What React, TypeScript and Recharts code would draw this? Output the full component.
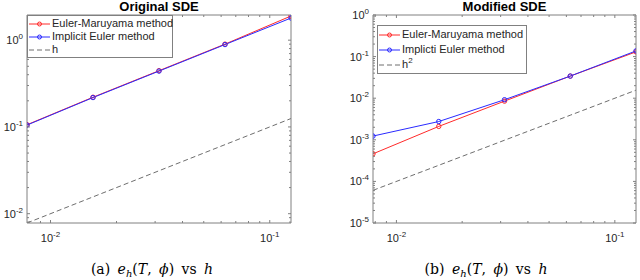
import React from 'react';
import { LineChart, Line, XAxis, YAxis } from 'recharts';

// step sizes h = 2^-7 ... 2^-3
const stepSizes = [0.0078125, 0.015625, 0.03125, 0.0625, 0.125];

// (a) original SDE errors
const originalEM = [0.106, 0.22, 0.445, 0.9, 1.9];
const originalIE = [0.105, 0.218, 0.44, 0.89, 1.8];
const originalRef = [0.0078125, 0.015625, 0.03125, 0.0625, 0.125];

// (b) modified SDE errors
const modifiedEM = [0.00046, 0.0021, 0.0085, 0.034, 0.13];
const modifiedIE = [0.00123, 0.00275, 0.0092, 0.034, 0.137];
const modifiedRef = [0.000061, 0.000244, 0.000977, 0.0039, 0.0156];

const xTicks = [0.008, 0.009, 0.01, 0.02, 0.03, 0.04, 0.05, 0.06, 0.07, 0.08, 0.09, 0.1];
const yTicksOriginal = [
  0.008, 0.009, 0.01, 0.02, 0.03, 0.04, 0.05, 0.06, 0.07, 0.08, 0.09,
  0.1, 0.2, 0.3, 0.4, 0.5, 0.6, 0.7, 0.8, 0.9, 1,
];
const yTicksModified = [
  1e-5, 2e-5, 3e-5, 4e-5, 5e-5, 6e-5, 7e-5, 8e-5, 9e-5,
  1e-4, 2e-4, 3e-4, 4e-4, 5e-4, 6e-4, 7e-4, 8e-4, 9e-4,
  1e-3, 2e-3, 3e-3, 4e-3, 5e-3, 6e-3, 7e-3, 8e-3, 9e-3,
  0.01, 0.02, 0.03, 0.04, 0.05, 0.06, 0.07, 0.08, 0.09,
  0.1, 0.2, 0.3, 0.4, 0.5, 0.6, 0.7, 0.8, 0.9, 1,
];

const AXIS = '#808080';
const TEXT = '#262626';
const EM_COLOR = '#ff2a2a';
const IE_COLOR = '#2a2aff';
const REF_COLOR = '#6e6e6e';
const SANS = '"Liberation Sans", Arial, Helvetica, sans-serif';

const isDecade = (v: number) => Math.abs(Math.log10(v) - Math.round(Math.log10(v))) < 1e-9;

const Pow10 = ({ x, y, v, anchor }: any) => (
  <text x={x} y={y} textAnchor={anchor} fontSize={11} fill={TEXT} fontFamily={SANS}>
    10<tspan dy={-5} fontSize={8}>{String(Math.round(Math.log10(v)))}</tspan>
  </text>
);

// ticks point inward, like MATLAB boxed axes
const BottomTick = ({ x, y, payload }: any) => {
  const major = isDecade(payload.value);
  return (
    <g>
      <line x1={x} x2={x} y1={y} y2={y - (major ? 3 : 2)} stroke={AXIS} />
      {major && <Pow10 x={x} y={y + 19} v={payload.value} anchor="middle" />}
    </g>
  );
};

const TopTick = ({ x, y, payload }: any) => {
  const major = isDecade(payload.value);
  return <line x1={x} x2={x} y1={y} y2={y + (major ? 3 : 2)} stroke={AXIS} />;
};

const LeftTick = ({ x, y, payload }: any) => {
  const major = isDecade(payload.value);
  return (
    <g>
      <line x1={x} x2={x + (major ? 3 : 2)} y1={y} y2={y} stroke={AXIS} />
      {major && <Pow10 x={x - 4} y={y + 4} v={payload.value} anchor="end" />}
    </g>
  );
};

const RightTick = ({ x, y, payload }: any) => {
  const major = isDecade(payload.value);
  return <line x1={x} x2={x - (major ? 3 : 2)} y1={y} y2={y} stroke={AXIS} />;
};

const LegendRow = ({ color, dashed, marker, height, children }: any) => (
  <div style={{ display: 'flex', alignItems: 'center', height, whiteSpace: 'nowrap' }}>
    <svg width={21} height={8} style={{ marginRight: 2, flex: 'none' }}>
      <line x1={0} x2={21} y1={4} y2={4} stroke={color} strokeWidth={1} strokeDasharray={dashed ? '5 3' : undefined} />
      {marker && <circle cx={10.5} cy={4} r={2} stroke={color} fill="none" />}
    </svg>
    <span>{children}</span>
  </div>
);

interface PanelProps {
  left: number;
  title: string;
  em: number[];
  ie: number[];
  ref: number[];
  yDomain: [number, number];
  yTicks: number[];
  yAxisWidth: number;
  rightMargin: number;
  legend: { left: number; top: number; width: number; rowHeight: number };
  ieLabel: string;
  refLabel: React.ReactNode;
  caption: string;
  captionCenter: number;
}

const Panel = (p: PanelProps) => {
  const rows = stepSizes.map((h, i) => ({ h, em: p.em[i], ie: p.ie[i], ref: p.ref[i] }));
  const plotLeft = p.yAxisWidth;
  const plotRight = 320 - p.rightMargin;
  const xDomain: [number, number] = [stepSizes[0], stepSizes[stepSizes.length - 1]];
  const axisLine = { stroke: AXIS, strokeWidth: 1 };
  return (
    <div style={{ position: 'absolute', left: p.left, top: 0, width: 320, height: 280 }}>
      <LineChart width={320} height={280} data={rows}
        margin={{ top: 14, right: p.rightMargin - 1, bottom: 27, left: 0 }}>
        <XAxis dataKey="h" type="number" scale="log" domain={xDomain} ticks={xTicks} interval={0}
          allowDataOverflow height={30} tickSize={0} tickMargin={0} tick={<BottomTick />}
          axisLine={axisLine} tickLine={false} />
        <XAxis xAxisId="top" orientation="top" dataKey="h" type="number" scale="log" domain={xDomain} ticks={xTicks}
          interval={0} allowDataOverflow height={1} tickSize={0} tickMargin={0} tick={<TopTick />}
          axisLine={axisLine} tickLine={false} />
        <YAxis type="number" scale="log" domain={p.yDomain} ticks={p.yTicks} interval={0} allowDataOverflow
          width={p.yAxisWidth} tickSize={0} tickMargin={0} tick={<LeftTick />} axisLine={axisLine} tickLine={false} />
        <YAxis yAxisId="right" orientation="right" type="number" scale="log" domain={p.yDomain} ticks={p.yTicks}
          interval={0} allowDataOverflow width={1} tickSize={0} tickMargin={0} tick={<RightTick />}
          axisLine={axisLine} tickLine={false} />
        <Line dataKey="ref" stroke={REF_COLOR} strokeWidth={1} strokeDasharray="5 3" dot={false} isAnimationActive={false} />
        <Line dataKey="em" stroke={EM_COLOR} strokeWidth={1}
          dot={{ r: 2.2, stroke: EM_COLOR, fill: 'none', strokeWidth: 1 }} isAnimationActive={false} />
        <Line dataKey="ie" stroke={IE_COLOR} strokeWidth={1}
          dot={{ r: 2.2, stroke: IE_COLOR, fill: 'none', strokeWidth: 1 }} isAnimationActive={false} />
      </LineChart>
      <div style={{ position: 'absolute', left: plotLeft, width: plotRight - plotLeft, top: 0, textAlign: 'center',
        fontFamily: SANS, fontWeight: 'bold', fontSize: 13, lineHeight: '13px', color: '#000' }}>
        {p.title}
      </div>
      <div style={{ position: 'absolute', left: p.legend.left, top: p.legend.top, width: p.legend.width,
        boxSizing: 'border-box', border: `1px solid ${AXIS}`, background: '#fff', padding: '1px 0 1px 1px',
        fontFamily: SANS, fontSize: 11, color: TEXT, lineHeight: `${p.legend.rowHeight}px` }}>
        <LegendRow color={EM_COLOR} marker height={p.legend.rowHeight}>Euler-Maruyama method</LegendRow>
        <LegendRow color={IE_COLOR} marker height={p.legend.rowHeight}>{p.ieLabel}</LegendRow>
        <LegendRow color={REF_COLOR} dashed height={p.legend.rowHeight}>{p.refLabel}</LegendRow>
      </div>
      <div style={{ position: 'absolute', left: p.captionCenter - 100, width: 200, top: 262, textAlign: 'center',
        fontFamily: '"DejaVu Serif", "Liberation Serif", serif', fontSize: 14, lineHeight: '15px', wordSpacing: 3,
        color: '#000', whiteSpace: 'nowrap' }}>
        {p.caption} <i>e</i><span style={{ fontSize: 10, verticalAlign: -3, lineHeight: 0 }}><i>h</i></span>
        (<i>T</i>, <i>ϕ</i>) vs <i>h</i>
      </div>
    </div>
  );
};

export default function App() {
  return (
    <div style={{ position: 'absolute', left: 0, top: 0, width: 640, height: 280, background: '#fff' }}>
      <Panel left={0} title="Original SDE" em={originalEM} ie={originalIE} ref={originalRef}
        yDomain={[0.0078125, 1.95]} yTicks={yTicksOriginal} yAxisWidth={27} rightMargin={29}
        legend={{ left: 27, top: 15, width: 146, rowHeight: 13 }} ieLabel="Implicit Euler method" refLabel="h"
        caption="(a)" captionCenter={152} />
      <Panel left={320} title="Modified SDE" em={modifiedEM} ie={modifiedIE} ref={modifiedRef}
        yDomain={[0.00001, 1]} yTicks={yTicksModified} yAxisWidth={53} rightMargin={4}
        legend={{ left: 57, top: 25, width: 150, rowHeight: 15 }} ieLabel="Implicti Euler method"
        refLabel={<span>h<sup style={{ fontSize: 8, lineHeight: 0 }}>2</sup></span>}
        caption="(b)" captionCenter={166} />
    </div>
  );
}
